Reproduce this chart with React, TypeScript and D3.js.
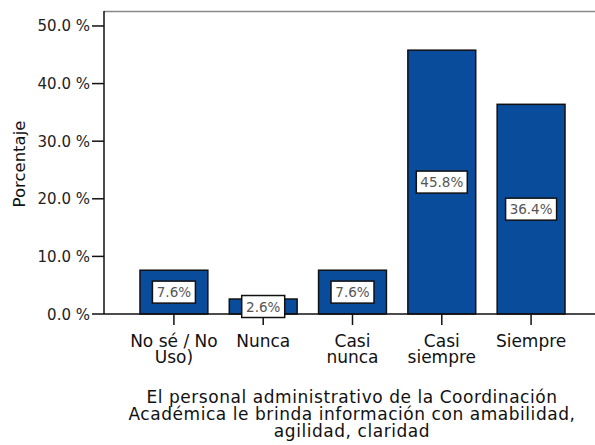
import React from "react";
import * as d3 from "d3";

const categories: string[][] = [
  ["No sé / No", "Uso)"],
  ["Nunca"],
  ["Casi", "nunca"],
  ["Casi", "siempre"],
  ["Siempre"],
];
const percentages: number[] = [7.6, 2.6, 7.6, 45.8, 36.4];
const valueLabels: string[] = ["7.6%", "2.6%", "7.6%", "45.8%", "36.4%"];
const yTicks: number[] = [0, 10, 20, 30, 40, 50];
const yTickLabels: string[] = ["0.0 %", "10.0 %", "20.0 %", "30.0 %", "40.0 %", "50.0 %"];
const yTitle = "Porcentaje";
const xTitleLines: string[] = [
  "El personal administrativo de la Coordinación",
  "Académica le brinda información con amabilidad,",
  "agilidad, claridad",
];

const W = 595;
const H = 445;
const left = 104;
const right = 601;
const top = 11;
const bottom = 314;
const FONT = "'DejaVu Sans', sans-serif";
const BAR_FILL = "#0a4c9c";

export default function App() {
  const x = d3
    .scaleBand<number>()
    .domain(d3.range(categories.length))
    .range([left, right])
    .paddingInner(0.24)
    .paddingOuter(0.403);
  const y = d3.scaleLinear().domain([0, 52.6]).range([bottom, top]);

  return (
    <svg
      width={W}
      height={H}
      style={{ position: "absolute", left: 0, top: 0, background: "#fff" }}
      fontFamily={FONT}
    >
      {/* frame */}
      <line x1={left} x2={W} y1={top + 0.5} y2={top + 0.5} stroke="#888" strokeWidth={1.5} />
      <line x1={left} x2={left} y1={top} y2={bottom} stroke="#111" strokeWidth={1.5} />

      {/* bars */}
      {percentages.map((v, i) => (
        <rect
          key={"b" + i}
          x={x(i)!}
          y={y(v)}
          width={x.bandwidth()}
          height={bottom - y(v)}
          fill={BAR_FILL}
          stroke="#111"
          strokeWidth={1.5}
        />
      ))}

      {/* x axis */}
      <line x1={left} x2={W} y1={bottom} y2={bottom} stroke="#111" strokeWidth={1.5} />
      {categories.map((lines, i) => {
        const cx = x(i)! + x.bandwidth() / 2;
        return (
          <g key={"x" + i}>
            <line x1={cx} x2={cx} y1={bottom} y2={bottom + 11} stroke="#111" strokeWidth={1.5} />
            {lines.map((t, j) => (
              <text
                key={j}
                x={cx}
                y={347 + j * 16}
                textAnchor="middle"
                fontSize={17}
                fill="#111"
              >
                {t}
              </text>
            ))}
          </g>
        );
      })}

      {/* value labels */}
      {percentages.map((v, i) => {
        const cx = x(i)! + x.bandwidth() / 2;
        const cy = (y(v) + bottom) / 2;
        const bw = valueLabels[i].length === 4 ? 43 : 51;
        const bh = 22;
        return (
          <g key={"v" + i}>
            <rect
              x={cx - bw / 2}
              y={cy - bh / 2}
              width={bw}
              height={bh}
              fill="#fff"
              stroke="#111"
              strokeWidth={1.5}
            />
            <text
              x={cx}
              y={cy + 5}
              textAnchor="middle"
              fontSize={13.5}
              fill="#555"
            >
              {valueLabels[i]}
            </text>
          </g>
        );
      })}

      {/* y axis ticks */}
      {yTicks.map((t, i) => (
        <g key={"y" + i}>
          <line x1={left - 12} x2={left} y1={y(t)} y2={y(t)} stroke="#111" strokeWidth={1.5} />
          <text
            x={left - 14}
            y={y(t) + 5.5}
            textAnchor="end"
            fontSize={15}
            fill="#222"
          >
            {yTickLabels[i]}
          </text>
        </g>
      ))}

      {/* y title */}
      <text
        transform={`translate(25,164) rotate(-90)`}
        textAnchor="middle"
        fontSize={16.5}
        fill="#111"
      >
        {yTitle}
      </text>

      {/* x title */}
      {xTitleLines.map((t, j) => (
        <text
          key={"t" + j}
          x={352}
          y={403 + j * 17}
          textAnchor="middle"
          fontSize={17}
          fill="#111"
          letterSpacing={0.55}
        >
          {t}
        </text>
      ))}
    </svg>
  );
}
